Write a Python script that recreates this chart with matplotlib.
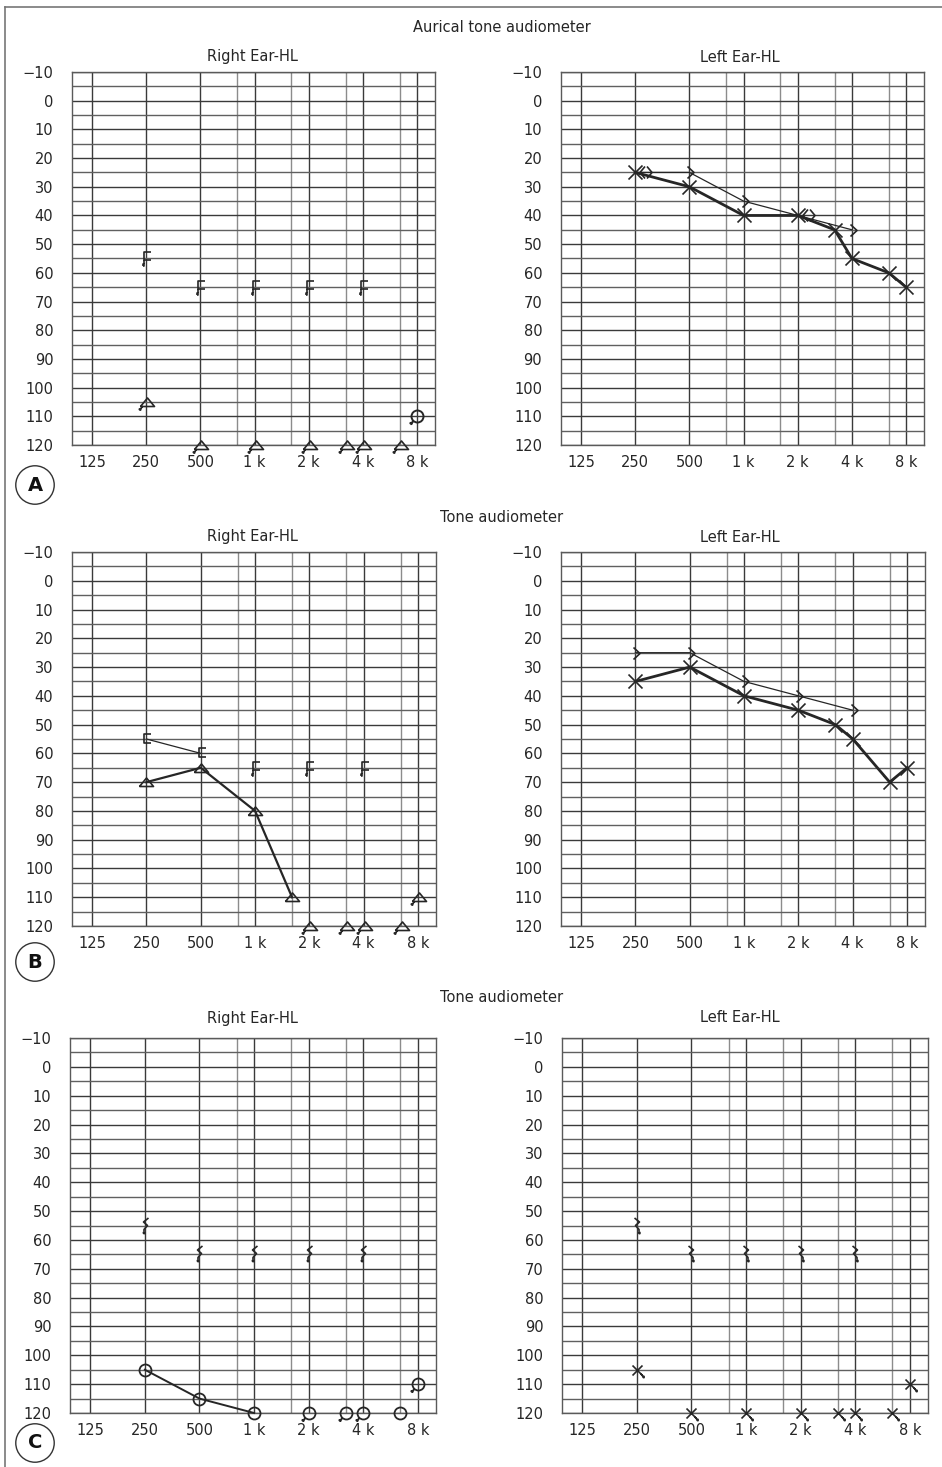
import numpy as np
import matplotlib
matplotlib.use("Agg")
import matplotlib.pyplot as plt
from matplotlib.path import Path
from matplotlib.lines import Line2D

W, H = 942, 1467
INK = '#262626'

# axis definitions
octave_freqs = [125, 250, 500, 1000, 2000, 4000, 8000]
half_freqs = [750, 1500, 3000, 6000]
freq_labels = ['125', '250', '500', '1 k', '2 k', '4 k', '8 k']
db_major = list(range(-10, 121, 10))
db_minor = list(range(-5, 116, 10))
db_labels = ['\u221210'] + [str(v) for v in range(0, 121, 10)]

# --- A : aurical tone audiometer ---
a_r_bone_f = [250, 500, 1000, 2000, 4000]
a_r_bone_db = [55, 65, 65, 65, 65]
a_r_air_f = [250, 500, 1000, 2000, 3000, 4000, 6000]
a_r_air_db = [105, 120, 120, 120, 120, 120, 120]
a_r_circ_f = [8000]
a_r_circ_db = [110]

a_l_air_f = [250, 500, 1000, 2000, 3000, 4000, 6000, 8000]
a_l_air_db = [25, 30, 40, 40, 45, 55, 60, 65]
a_l_bone_f = [250, 500, 1000, 2000, 4000]
a_l_bone_db = [25, 25, 35, 40, 45]
a_l_bone_sym = ['<>', '>', '>', '<>', '>']

# --- B : tone audiometer ---
b_r_bone_f = [250, 500]
b_r_bone_db = [55, 60]
b_r_bone_nr_f = [1000, 2000, 4000]
b_r_bone_nr_db = [65, 65, 65]
b_r_air_f = [250, 500, 1000, 1500]
b_r_air_db = [70, 65, 80, 110]
b_r_air_nr_f = [2000, 3000, 4000, 6000, 8000]
b_r_air_nr_db = [120, 120, 120, 120, 110]

b_l_air_f = [250, 500, 1000, 2000, 3000, 4000, 6000, 8000]
b_l_air_db = [35, 30, 40, 45, 50, 55, 70, 65]
b_l_bone_f = [250, 500, 1000, 2000, 4000]
b_l_bone_db = [25, 25, 35, 40, 45]

# --- C : tone audiometer ---
c_r_bone_nr_f = [250, 500, 1000, 2000, 4000]
c_r_bone_nr_db = [55, 65, 65, 65, 65]
c_r_air_f = [250, 500, 1000]
c_r_air_db = [105, 115, 120]
c_r_air_nr_f = [2000, 3000, 4000, 8000]
c_r_air_nr_db = [120, 120, 120, 110]
c_r_air_solo_f = [6000]
c_r_air_solo_db = [120]

c_l_bone_nr_f = [250, 500, 1000, 2000, 4000]
c_l_bone_nr_db = [55, 65, 65, 65, 65]
c_l_air_nr_f = [250, 500, 1000, 2000, 3000, 4000, 6000, 8000]
c_l_air_nr_db = [105, 120, 120, 120, 120, 120, 120, 110]


# audiogram frequency scale: octaves evenly spaced, half octaves at ~0.68
knot_f = np.log2([62.5, 125, 250, 500, 750, 1000, 1500, 2000, 3000, 4000, 6000, 8000, 16000])
knot_p = [-1, 0, 1, 2, 2.68, 3, 3.68, 4, 4.68, 5, 5.68, 6, 7]


def fwd(x):
    return np.interp(np.log2(np.clip(x, 1e-3, None)), knot_f, knot_p)


def inv(p):
    return 2 ** np.interp(p, knot_p, knot_f)


# symbols drawn in pixel units (y up), with optional "no response" dots
def glyph(strokes=(), dots=(), circle=None, closed=()):
    parts = []
    if circle:
        parts.append(Path.circle((0, 0), circle))
    for s in strokes:
        parts.append(Path(s))
    for s in closed:
        parts.append(Path(list(s) + [s[0]]))
    for (x, y) in dots:
        d = 0.6
        parts.append(Path([(x - d, y - d), (x + d, y - d), (x + d, y + d), (x - d, y + d), (x - d, y - d)]))
    p = Path.make_compound_path(*parts)
    return p, 2 * np.abs(p.vertices).max() * 0.72


BRACKET = glyph([[(5, 5), (-2.5, 5), (-2.5, -4), (5, -4)]])
BRACKET_NR = glyph([[(5, 6.5), (-2.5, 6.5), (-2.5, -2), (5, -2)], [(-2.5, -2), (-2.5, -6)]], dots=[(-2.5, -7)])
TRI = glyph(closed=[[(-7, -4), (7, -4), (0, 4.5)]])
TRI_NR = glyph(closed=[[(-6, -4), (8, -4), (1, 4.5)]], strokes=[[(-4, -4), (-6, -6.5)]], dots=[(-6.5, -7)])
CIRC = glyph(circle=6)
CIRC_NR = glyph(circle=6, strokes=[[(-4, -4.5), (-6, -6.5)]], dots=[(-6.5, -7)])
XBIG = glyph([[(-7, -7), (7, 7)], [(-7, 7), (7, -7)]])
X_NR = glyph([[(-5, -5), (5, 5)], [(-5, 5), (5, -5)], [(3.5, -3.5), (5.5, -6)]], dots=[(6, -6.5)])
GT = glyph([[(-2, 6), (4.5, 0), (-2, -6)]])
LTGT = glyph([[(9.5, 6), (4.5, 0), (9.5, -6)], [(11.5, 6), (16.5, 0), (11.5, -6)]])
SQ_R = glyph([[(3, 8.5), (-2, 4.5), (2, 1), (-1.5, -3), (-1.5, -5)]], dots=[(-1.5, -6.5)])
SQ_L = glyph([[(-3, 8.5), (2, 4.5), (-2, 1), (1.5, -3), (1.5, -5)]], dots=[(1.8, -6.5)])
SYMS = {'>': GT, '<>': LTGT}


def marks(ax, f, db, g, mew=1.2):
    path, size = g
    ax.plot(f, db, linestyle='none', marker=path, markersize=size, mfc='none',
            mec=INK, mew=mew, clip_on=False, zorder=5)


def curve(ax, f, db, lw):
    ax.plot(f, db, color=INK, lw=lw, zorder=4, clip_on=False)


def setup(ax):
    ax.set_xscale('function', functions=(fwd, inv))
    ax.set_xlim(inv(-0.37), inv(6.33))
    ax.set_ylim(120, -10)
    ax.set_xticks(octave_freqs)
    ax.set_xticklabels(freq_labels)
    ax.set_xticks(half_freqs, minor=True)
    ax.set_yticks(db_major)
    ax.set_yticklabels(db_labels)
    ax.set_yticks(db_minor, minor=True)
    ax.tick_params(which='both', length=0, labelcolor=INK, labelsize=10.5)
    ax.tick_params(axis='y', pad=13.5)
    ax.tick_params(axis='x', pad=7)
    ax.grid(which='major', color='#3a3a3a', lw=1.0)
    ax.grid(which='minor', axis='y', color='#606060', lw=1.0)
    ax.grid(which='minor', axis='x', color='#8c8c8c', lw=1.0)
    ax.set_axisbelow(True)
    for s in ax.spines.values():
        s.set_color('#5a5a5a')
        s.set_linewidth(1.0)


def rect(x0, y0, x1, y1):
    return [x0 / W, 1 - y1 / H, (x1 - x0) / W, (y1 - y0) / H]


fig = plt.figure(figsize=(W / 100, H / 100), dpi=100)
fig.patch.set_facecolor('white')

# frame
fig.add_artist(Line2D([5 / W, 5 / W], [0, 1 - 7 / H], color='#777777', lw=1.2, transform=fig.transFigure))
fig.add_artist(Line2D([5 / W, 1], [1 - 7 / H, 1 - 7 / H], color='#777777', lw=1.2, transform=fig.transFigure))

# panel A
ax = fig.add_axes(rect(72, 72, 435, 445))
setup(ax)
marks(ax, a_r_bone_f, a_r_bone_db, BRACKET_NR)
marks(ax, a_r_air_f, a_r_air_db, TRI_NR)
marks(ax, a_r_circ_f, a_r_circ_db, CIRC_NR, mew=1.4)

ax = fig.add_axes(rect(561, 72, 924, 445))
setup(ax)
curve(ax, a_l_bone_f, a_l_bone_db, 0.9)
curve(ax, a_l_air_f, a_l_air_db, 2.0)
marks(ax, a_l_air_f, a_l_air_db, XBIG)
for key in ['>', '<>']:
    sel = [i for i, s in enumerate(a_l_bone_sym) if s == key]
    marks(ax, [a_l_bone_f[i] for i in sel], [a_l_bone_db[i] for i in sel], SYMS[key])

# panel B
ax = fig.add_axes(rect(72, 552, 436, 926))
setup(ax)
curve(ax, b_r_bone_f, b_r_bone_db, 0.9)
curve(ax, b_r_air_f, b_r_air_db, 1.6)
marks(ax, b_r_bone_f, b_r_bone_db, BRACKET)
marks(ax, b_r_bone_nr_f, b_r_bone_nr_db, BRACKET_NR)
marks(ax, b_r_air_f, b_r_air_db, TRI)
marks(ax, b_r_air_nr_f, b_r_air_nr_db, TRI_NR)

ax = fig.add_axes(rect(561, 552, 925, 926))
setup(ax)
curve(ax, b_l_bone_f, b_l_bone_db, 0.9)
curve(ax, b_l_air_f, b_l_air_db, 2.0)
marks(ax, b_l_air_f, b_l_air_db, XBIG)
marks(ax, b_l_bone_f, b_l_bone_db, GT)

# panel C
ax = fig.add_axes(rect(70, 1038, 436, 1413))
setup(ax)
curve(ax, c_r_air_f, c_r_air_db, 1.4)
marks(ax, c_r_bone_nr_f, c_r_bone_nr_db, SQ_R)
marks(ax, c_r_air_f, c_r_air_db, CIRC, mew=1.3)
marks(ax, c_r_air_nr_f, c_r_air_nr_db, CIRC_NR, mew=1.3)
marks(ax, c_r_air_solo_f, c_r_air_solo_db, CIRC, mew=1.3)

ax = fig.add_axes(rect(562, 1038, 928, 1413))
setup(ax)
marks(ax, c_l_bone_nr_f, c_l_bone_nr_db, SQ_L)
marks(ax, c_l_air_nr_f, c_l_air_nr_db, X_NR)

# headings
for title, y in [('Aurical tone audiometer', 27), ('Tone audiometer', 517), ('Tone audiometer', 998)]:
    fig.text(502 / W, 1 - y / H, title, ha='center', va='center', fontsize=10.5, color=INK)
for y in [57, 537, 1018]:
    fig.text(252 / W, 1 - y / H, 'Right Ear-HL', ha='center', va='center', fontsize=10.5, color=INK)
    fig.text(740 / W, 1 - y / H, 'Left Ear-HL', ha='center', va='center', fontsize=10.5, color=INK)

# panel letters
for letter, y in [('A', 485), ('B', 962), ('C', 1443)]:
    fig.text(35 / W, 1 - y / H, letter, ha='center', va='center', fontsize=14, fontweight='bold',
             color='#111111',
             bbox=dict(boxstyle='circle,pad=0.5', fc='white', ec='#333333', lw=1.0))

fig.savefig('out.png', dpi=100, facecolor='white')
